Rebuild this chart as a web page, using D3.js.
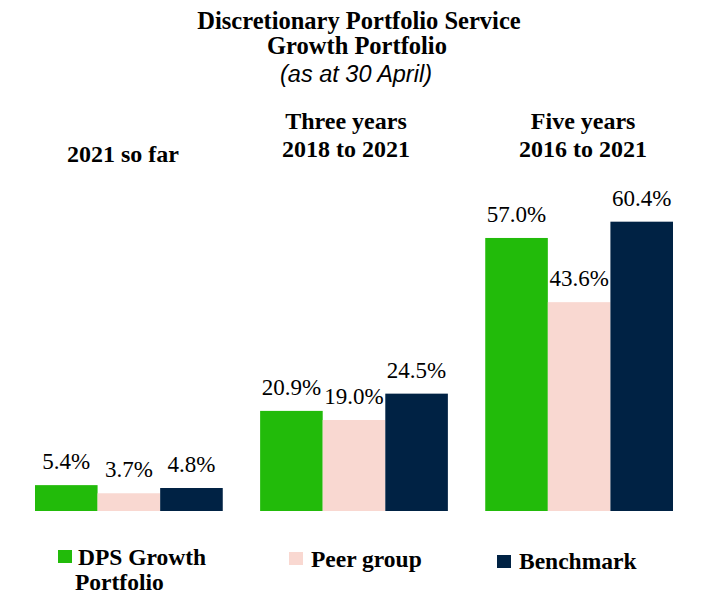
<!DOCTYPE html>
<html><head><meta charset="utf-8">
<script src="https://cdn.jsdelivr.net/npm/d3@7"></script>
<style>body{margin:0;background:#fff}</style>
</head><body>
<script>
const groups = ["2021 so far", "Three years", "Five years"];
const groupLines = [["2021 so far"], ["Three years", "2018 to 2021"], ["Five years", "2016 to 2021"]];
const seriesNames = ["DPS Growth Portfolio", "Peer group", "Benchmark"];
const dps = [5.4, 20.9, 57.0];
const peer = [3.7, 19.0, 43.6];
const bench = [4.8, 24.5, 60.4];
const colors = ["#22bb0a", "#f9d8d1", "#002244"];
const serif = "'Liberation Serif', 'DejaVu Serif', serif";

const W = 712, H = 613;
const svg = d3.select("body").append("svg").attr("width", W).attr("height", H);

const x0 = d3.scaleBand().domain(groups).range([35, 673]).paddingInner(0.166).paddingOuter(0);
const x1 = d3.scaleBand().domain(seriesNames).range([0, x0.bandwidth()]).padding(0);
const y = d3.scaleLinear().domain([0, 100]).range([511, 32]);

const seriesVals = [dps, peer, bench];

// title
const t = svg.append("g").attr("text-anchor", "middle");
t.append("text").attr("x", 359).attr("y", 29).attr("font-family", serif).attr("font-weight", "bold").attr("font-size", 24.5).text("Discretionary Portfolio Service");
t.append("text").attr("x", 357).attr("y", 54).attr("font-family", serif).attr("font-weight", "bold").attr("font-size", 24.5).text("Growth Portfolio");
t.append("text").attr("x", 356).attr("y", 82).attr("font-family", "'Liberation Sans', Arial, sans-serif").attr("font-style", "italic").attr("font-size", 23.5).text("(as at 30 April)");

// group labels
const groupNudge = [-6, -8, 4];
groups.forEach((g, i) => {
  const lines = groupLines[i];
  const cx = x0(g) + x0.bandwidth() / 2 + groupNudge[i];
  const startY = lines.length === 1 ? 162 : 129;
  lines.forEach((l, j) => {
    svg.append("text").attr("x", cx).attr("y", startY + j * 28)
      .attr("text-anchor", "middle").attr("font-family", serif).attr("font-weight", "bold")
      .attr("font-size", 24).text(l);
  });
});

// bars
seriesNames.forEach((s, si) => {
  const gg = svg.append("g");
  gg.selectAll("rect").data(groups).join("rect")
    .attr("x", g => x0(g) + x1(s))
    .attr("y", (g, i) => y(seriesVals[si][i]))
    .attr("width", x1.bandwidth())
    .attr("height", (g, i) => y(0) - y(seriesVals[si][i]))
    .attr("fill", colors[si]);
  gg.selectAll("text").data(groups).join("text")
    .attr("x", g => x0(g) + x1(s) + x1.bandwidth() / 2)
    .attr("y", (g, i) => y(seriesVals[si][i]) - 16)
    .attr("text-anchor", "middle").attr("font-family", serif).attr("font-size", 23)
    .text((g, i) => seriesVals[si][i].toFixed(1) + "%");
});

// legend
const legendItems = [
  {lines: ["DPS Growth", "Portfolio"], sx: 58, sy: 550, tx: 78, ty: 565},
  {lines: ["Peer group"], sx: 289, sy: 552, tx: 311, ty: 567},
  {lines: ["Benchmark"], sx: 497, sy: 555, tx: 519, ty: 569}
];
legendItems.forEach((it, i) => {
  svg.append("rect").attr("x", it.sx).attr("y", it.sy).attr("width", 14).attr("height", 13).attr("fill", colors[i]);
  it.lines.forEach((l, j) => {
    svg.append("text").attr("x", j === 0 ? it.tx : it.tx - 3).attr("y", it.ty + j * 25)
      .attr("font-family", serif).attr("font-weight", "bold").attr("font-size", 23.5).text(l);
  });
});
</script>
</body></html>
